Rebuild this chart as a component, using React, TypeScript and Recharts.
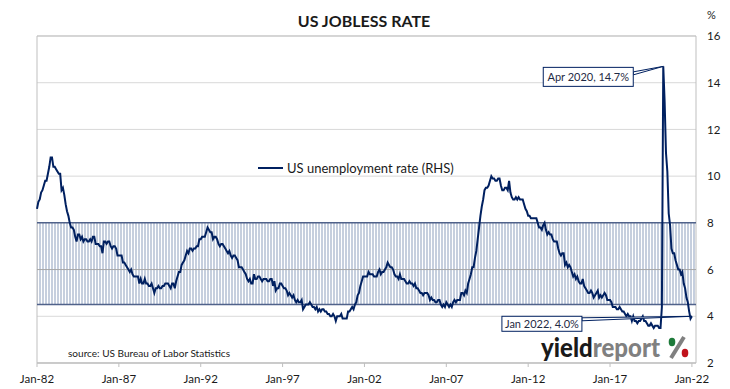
import React from 'react';
import {
    LineChart,
    Line,
    XAxis,
    YAxis,
    CartesianGrid,
    ReferenceArea,
    ReferenceLine,
    ReferenceDot,
    Legend
} from 'recharts';

// US unemployment rate, monthly, seasonally adjusted (%)
const START_YEAR = 1982;
const MONTHS = ['Jan', 'Feb', 'Mar', 'Apr', 'May', 'Jun', 'Jul', 'Aug', 'Sep', 'Oct', 'Nov', 'Dec'];

const monthlyRate = [
    8.6, 8.9, 9.0, 9.3, 9.4, 9.6, 9.8, 9.8, 10.1, 10.4, 10.8, 10.8, // 1982
    10.4, 10.4, 10.3, 10.2, 10.1, 10.1, 9.4, 9.5, 9.2, 8.8, 8.5, 8.3, // 1983
    8.0, 7.8, 7.8, 7.7, 7.4, 7.2, 7.5, 7.5, 7.3, 7.4, 7.2, 7.3, // 1984
    7.3, 7.2, 7.2, 7.3, 7.2, 7.4, 7.4, 7.1, 7.1, 7.1, 7.0, 7.0, // 1985
    6.7, 7.2, 7.2, 7.1, 7.2, 7.2, 7.0, 6.9, 7.0, 7.0, 6.9, 6.6, // 1986
    6.6, 6.6, 6.6, 6.3, 6.3, 6.2, 6.1, 6.0, 5.9, 6.0, 5.8, 5.7, // 1987
    5.7, 5.7, 5.7, 5.4, 5.6, 5.4, 5.4, 5.6, 5.4, 5.4, 5.3, 5.3, // 1988
    5.4, 5.2, 5.0, 5.2, 5.2, 5.3, 5.2, 5.2, 5.3, 5.3, 5.4, 5.4, // 1989
    5.4, 5.3, 5.2, 5.4, 5.4, 5.2, 5.5, 5.7, 5.9, 5.9, 6.2, 6.3, // 1990
    6.4, 6.6, 6.8, 6.7, 6.9, 6.9, 6.8, 6.9, 6.9, 7.0, 7.0, 7.3, // 1991
    7.3, 7.4, 7.4, 7.4, 7.6, 7.8, 7.7, 7.6, 7.6, 7.3, 7.4, 7.4, // 1992
    7.3, 7.1, 7.0, 7.1, 7.1, 7.0, 6.9, 6.8, 6.7, 6.8, 6.6, 6.5, // 1993
    6.6, 6.6, 6.5, 6.4, 6.1, 6.1, 6.1, 6.0, 5.9, 5.8, 5.6, 5.5, // 1994
    5.6, 5.4, 5.4, 5.8, 5.6, 5.6, 5.7, 5.7, 5.6, 5.5, 5.6, 5.6, // 1995
    5.6, 5.5, 5.5, 5.6, 5.6, 5.3, 5.5, 5.1, 5.2, 5.2, 5.4, 5.4, // 1996
    5.3, 5.2, 5.2, 5.1, 4.9, 5.0, 4.9, 4.8, 4.9, 4.7, 4.6, 4.7, // 1997
    4.6, 4.6, 4.7, 4.3, 4.4, 4.5, 4.5, 4.5, 4.6, 4.5, 4.4, 4.4, // 1998
    4.3, 4.4, 4.2, 4.3, 4.2, 4.3, 4.3, 4.2, 4.2, 4.1, 4.1, 4.0, // 1999
    4.0, 4.1, 4.0, 3.8, 4.0, 4.0, 4.0, 4.1, 3.9, 3.9, 3.9, 3.9, // 2000
    4.2, 4.2, 4.3, 4.4, 4.3, 4.5, 4.6, 4.9, 5.0, 5.3, 5.5, 5.7, // 2001
    5.7, 5.7, 5.7, 5.9, 5.8, 5.8, 5.8, 5.7, 5.7, 5.7, 5.9, 6.0, // 2002
    5.8, 5.9, 5.9, 6.0, 6.1, 6.3, 6.2, 6.1, 6.1, 6.0, 5.8, 5.7, // 2003
    5.7, 5.6, 5.8, 5.6, 5.6, 5.6, 5.5, 5.4, 5.4, 5.5, 5.4, 5.4, // 2004
    5.3, 5.4, 5.2, 5.2, 5.1, 5.0, 5.0, 4.9, 5.0, 5.0, 5.0, 4.9, // 2005
    4.7, 4.8, 4.7, 4.7, 4.6, 4.6, 4.7, 4.7, 4.5, 4.4, 4.5, 4.4, // 2006
    4.6, 4.5, 4.4, 4.5, 4.4, 4.6, 4.7, 4.6, 4.7, 4.7, 4.7, 5.0, // 2007
    5.0, 4.9, 5.1, 5.0, 5.4, 5.6, 5.8, 6.1, 6.1, 6.5, 6.8, 7.3, // 2008
    7.8, 8.3, 8.7, 9.0, 9.4, 9.5, 9.5, 9.6, 9.8, 10.0, 9.9, 9.9, // 2009
    9.8, 9.8, 9.9, 9.9, 9.6, 9.4, 9.4, 9.5, 9.5, 9.4, 9.8, 9.3, // 2010
    9.1, 9.0, 9.0, 9.1, 9.0, 9.1, 9.0, 9.0, 9.0, 8.8, 8.6, 8.5, // 2011
    8.3, 8.3, 8.2, 8.2, 8.2, 8.2, 8.2, 8.0, 7.8, 7.8, 7.7, 7.9, // 2012
    8.0, 7.7, 7.5, 7.6, 7.5, 7.5, 7.3, 7.2, 7.2, 7.2, 6.9, 6.7, // 2013
    6.6, 6.7, 6.7, 6.2, 6.3, 6.1, 6.2, 6.1, 5.9, 5.7, 5.8, 5.6, // 2014
    5.7, 5.5, 5.4, 5.4, 5.6, 5.3, 5.2, 5.1, 5.0, 5.0, 5.1, 5.0, // 2015
    4.8, 4.9, 5.0, 5.1, 4.8, 4.9, 4.8, 4.9, 5.0, 4.9, 4.7, 4.7, // 2016
    4.7, 4.6, 4.4, 4.4, 4.4, 4.3, 4.3, 4.4, 4.3, 4.2, 4.2, 4.1, // 2017
    4.0, 4.1, 4.0, 4.0, 3.8, 4.0, 3.8, 3.8, 3.7, 3.8, 3.8, 3.9, // 2018
    4.0, 3.8, 3.8, 3.7, 3.6, 3.6, 3.7, 3.6, 3.5, 3.6, 3.6, 3.6, // 2019
    3.5, 3.5, 4.4, 14.7, 13.2, 11.0, 10.2, 8.4, 7.9, 6.9, 6.7, 6.7, // 2020
    6.4, 6.2, 6.0, 6.0, 5.8, 5.9, 5.4, 5.2, 4.8, 4.6, 4.2, 3.9, // 2021
    4.0 // 2022
];

const tickLabels = ['Jan-82', 'Jan-87', 'Jan-92', 'Jan-97', 'Jan-02', 'Jan-07', 'Jan-12', 'Jan-17', 'Jan-22'];
const rateTicks = [2, 4, 6, 8, 10, 12, 14, 16];
const band = { low: 4.5, high: 8 };
const calloutLabels = ['Apr 2020', 'Jan 2022'];

// callout box placement relative to the point (styling only)
const CALLOUT_STYLE: Record<string, { dx: number; dy: number; w: number; h: number; ly1: number; ly2: number }> = {
    'Apr 2020': { dx: -120, dy: 1, w: 90, h: 19, ly1: 5.5, ly2: 8.5 },
    'Jan 2022': { dx: -190, dy: 0, w: 80, h: 15, ly1: 1.5, ly2: 4.5 },
};

const NAVY = '#002060';
const FONT = 'Lato, "Open Sans", sans-serif';

const data = monthlyRate.map((rate, i) => ({
    t: i,
    label: `${MONTHS[i % 12]} ${START_YEAR + Math.floor(i / 12)}`,
    rate,
}));
const monthTicks = tickLabels.map((_, i) => i * 60);
const xMax = monthlyRate.length + 2;

const Callout = (props: any) => {
    const { cx, cy, text, id } = props;
    const s = CALLOUT_STYLE[id];
    const bx = cx + s.dx;
    const by = cy + s.dy;
    const right = bx + s.w;
    return (
        <g>
            <polygon
                points={`${cx},${cy} ${right},${cy + s.ly1} ${right},${cy + s.ly2}`}
                fill="#fff"
                stroke={NAVY}
                strokeWidth={1}
            />
            <rect x={bx} y={by} width={s.w} height={s.h} fill="#fff" stroke={NAVY} strokeWidth={1} />
            <text
                x={bx + s.w / 2}
                y={by + s.h / 2}
                textAnchor="middle"
                dominantBaseline="central"
                fontSize={11}
                fontFamily={FONT}
                fill="#1f2a44"
            >
                {text}
            </text>
        </g>
    );
};

const LegendContent = () => (
    <div style={{ display: 'flex', alignItems: 'center', fontFamily: FONT, fontSize: 13, color: '#1a1a1a' }}>
        <svg width={25} height={4} style={{ marginRight: 4 }}>
            <line x1={0} y1={2} x2={25} y2={2} stroke={NAVY} strokeWidth={2} />
        </svg>
        <span>US unemployment rate (RHS)</span>
    </div>
);

const App: React.FC = () => {
    return (
        <div style={{ position: 'absolute', left: 0, top: 0, width: 730, height: 389, background: '#fff' }}>
            <svg width={0} height={0} style={{ position: 'absolute' }}>
                <defs>
                    <pattern id="jobless-band" patternUnits="userSpaceOnUse" width={3} height={10}>
                        <rect x={0} y={0} width={3} height={10} fill="#ffffff" />
                        <rect x={0} y={0} width={2} height={10} fill="#c6cfde" />
                    </pattern>
                </defs>
            </svg>
            <LineChart
                width={730}
                height={389}
                data={data}
                margin={{ top: 36, right: 0, bottom: 4, left: 37 }}
                style={{ fontFamily: FONT }}
            >
                <CartesianGrid horizontal vertical={false} stroke="#d9d9d9" />
                <XAxis
                    type="number"
                    dataKey="t"
                    domain={[0, xMax]}
                    ticks={monthTicks}
                    interval={0}
                    tickFormatter={(t: number) => tickLabels[t / 60]}
                    tick={{ fontSize: 11.5, fill: '#1a1a1a' }}
                    tickLine={{ stroke: '#bfbfbf' }}
                    axisLine={{ stroke: '#bfbfbf' }}
                    tickSize={4}
                    tickMargin={8}
                    height={22}
                />
                <YAxis
                    orientation="right"
                    domain={[2, 16]}
                    ticks={rateTicks}
                    interval={0}
                    tick={{ fontSize: 11.5, fill: '#1a1a1a', textAnchor: 'start' }}
                    tickLine={false}
                    axisLine={false}
                    tickSize={0}
                    tickMargin={11}
                    width={34}
                />
                <ReferenceArea x1={0} x2={xMax} y1={band.low} y2={band.high} fill="url(#jobless-band)" fillOpacity={1} stroke="none" />
                <ReferenceLine y={6} stroke="#a6a6a6" />
                <ReferenceLine y={band.high} stroke="#50628a" strokeWidth={1.5} />
                <ReferenceLine y={band.low} stroke="#50628a" strokeWidth={1.5} />
                <ReferenceArea x1={0} x2={xMax} y1={2} y2={16} fill="none" stroke="#bfbfbf" ifOverflow="visible" />
                <Legend
                    verticalAlign="middle"
                    align="center"
                    layout="horizontal"
                    wrapperStyle={{ top: 160, left: 258, width: 'auto' }}
                    content={<LegendContent />}
                />
                <Line
                    type="linear"
                    dataKey="rate"
                    name="US unemployment rate (RHS)"
                    stroke={NAVY}
                    strokeWidth={2}
                    dot={false}
                    isAnimationActive={false}
                />
                {calloutLabels.map((lab) => {
                    const d = data.find((p) => p.label === lab)!;
                    return (
                        <ReferenceDot
                            key={lab}
                            x={d.t}
                            y={d.rate}
                            r={0}
                            ifOverflow="visible"
                            shape={(p: any) => (
                                <Callout {...p} id={lab} text={`${lab}, ${d.rate.toFixed(1)}%`} />
                            )}
                        />
                    );
                })}
            </LineChart>
            <svg width={730} height={389} style={{ position: 'absolute', left: 0, top: 0, pointerEvents: 'none' }}>
                <text x={364} y={27} textAnchor="middle" fontFamily={FONT} fontWeight={700} fontSize={16} fill="#1a1a1a">
                    US JOBLESS RATE
                </text>
                <text x={707} y={19} fontFamily={FONT} fontSize={11} fill="#1a1a1a">%</text>
                <text x={68} y={357} fontFamily={FONT} fontSize={10} fill="#1a1a1a" textLength={162} lengthAdjust="spacingAndGlyphs">
                    source: US Bureau of Labor Statistics
                </text>
                <text x={541} y={357} fontFamily={FONT} fontWeight={900} fontSize={26} textLength={119} lengthAdjust="spacingAndGlyphs">
                    <tspan fill="#1a1a1a">yield</tspan>
                    <tspan fill="#808080">report</tspan>
                </text>
                <line x1={684} y1={337} x2={671} y2={358} stroke="#808080" strokeWidth={4} />
                <ellipse cx={672} cy={342} rx={3.3} ry={4.2} fill="#1d7a3a" />
                <ellipse cx={685} cy={353} rx={3.3} ry={4.2} fill="#c0121c" />
            </svg>
        </div>
    );
};

export default App;
